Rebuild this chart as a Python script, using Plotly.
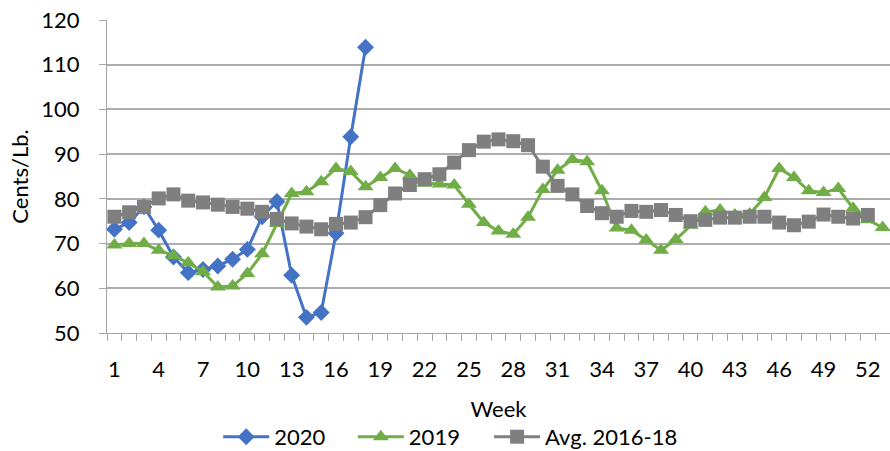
import plotly.graph_objects as go

weeks = list(range(1, 54))
y2020 = [73.2, 74.7, 78.2, 73.0, 67.0, 63.5, 64.2, 65.0, 66.5, 68.7, 76.0, 79.4,
         62.9, 53.5, 54.6, 72.3, 93.9, 113.9]
y2019 = [69.7, 70.0, 70.0, 68.5, 67.3, 65.7, 63.7, 60.3, 60.5, 63.3, 67.7, 74.5,
         81.2, 81.6, 83.8, 86.8, 86.1, 82.7, 84.8, 86.8, 85.3, 83.5, 83.3, 83.1,
         78.8, 74.7, 72.8, 72.1, 75.9, 82.1, 86.4, 88.8, 88.3, 81.8, 73.5, 73.0,
         70.8, 68.5, 70.9, 74.1, 77.1, 77.5, 76.4, 76.6, 80.3, 86.8, 84.8, 81.8,
         81.4, 82.3, 77.9, 75.3, 73.6]
yavg = [76.0, 77.0, 78.2, 80.1, 81.0, 79.6, 79.2, 78.7, 78.2, 77.8, 77.1, 75.5,
        74.5, 73.8, 73.2, 74.4, 74.7, 75.9, 78.6, 81.2, 83.1, 84.4, 85.5, 88.1,
        90.9, 92.8, 93.3, 92.9, 92.0, 87.2, 82.9, 81.0, 78.4, 76.8, 76.0, 77.3,
        77.1, 77.5, 76.4, 75.0, 75.3, 75.8, 75.8, 76.0, 76.0, 74.7, 74.1, 74.9,
        76.5, 76.0, 75.6, 76.4]
xtick_vals = list(range(1, 54, 3))
xtick_text = [str(v) for v in xtick_vals]

FONT = "Lato"
FS = 22
fig = go.Figure()
fig.add_trace(go.Scatter(x=weeks[:len(y2020)], y=y2020, name="2020", mode="lines+markers",
                         line=dict(color="#4472C4", width=3), legend="legend",
                         marker=dict(symbol="diamond", size=13, color="#4472C4")))
fig.add_trace(go.Scatter(x=weeks[:len(y2019)], y=y2019, name="2019", mode="lines+markers",
                         line=dict(color="#70AD47", width=3), legend="legend2",
                         marker=dict(symbol="triangle-up", size=14, color="#70AD47")))
fig.add_trace(go.Scatter(x=weeks[:len(yavg)], y=yavg, name="Avg. 2016-18", mode="lines+markers",
                         line=dict(color="#7F7F7F", width=3), legend="legend3",
                         marker=dict(symbol="square", size=14, color="#7F7F7F")))

leg = dict(orientation="h", xanchor="left", y=-0.332, yanchor="middle",
           font=dict(size=FS), itemwidth=46, bgcolor="rgba(0,0,0,0)")
fig.update_layout(
    width=890, height=460,
    margin=dict(l=107, r=0, t=20, b=127),
    plot_bgcolor="white", paper_bgcolor="white",
    font=dict(family=FONT, size=FS, color="#000000"),
    showlegend=True,
    legend=dict(leg, x=0.142),
    legend2=dict(leg, x=0.314),
    legend3=dict(leg, x=0.488),
    xaxis=dict(range=[0.5, 53.5], tickmode="array", tickvals=xtick_vals, ticktext=xtick_text,
               ticks="", showgrid=False, showline=True, linecolor="#A6A6A6", linewidth=1,
               ticklabelstandoff=17, zeroline=False, automargin=False,
               ticklabeloverflow="allow",
               minor=dict(tickmode="array", tickvals=[i + 0.5 for i in range(0, 54)],
                          ticks="outside", ticklen=7, tickcolor="#A6A6A6", showgrid=False),
               title=dict(text="Week", font=dict(size=FS), standoff=20)),
    yaxis=dict(range=[50, 120], dtick=10, showgrid=True, gridcolor="#ADADAD", gridwidth=1.5,
               showline=True, linecolor="#A6A6A6", linewidth=1, ticks="outside", ticklen=7,
               tickcolor="#A6A6A6", ticklabelstandoff=15, zeroline=False, automargin=False,
               ticklabeloverflow="allow",
               title=dict(text="Cents/Lb.", font=dict(size=FS), standoff=6)),
)
# remove the default 8px body margin of the page so the figure sits at (0, 0)
fig.write_html("out.html", config={"displayModeBar": False},
               post_script="document.body.style.margin='0';")
